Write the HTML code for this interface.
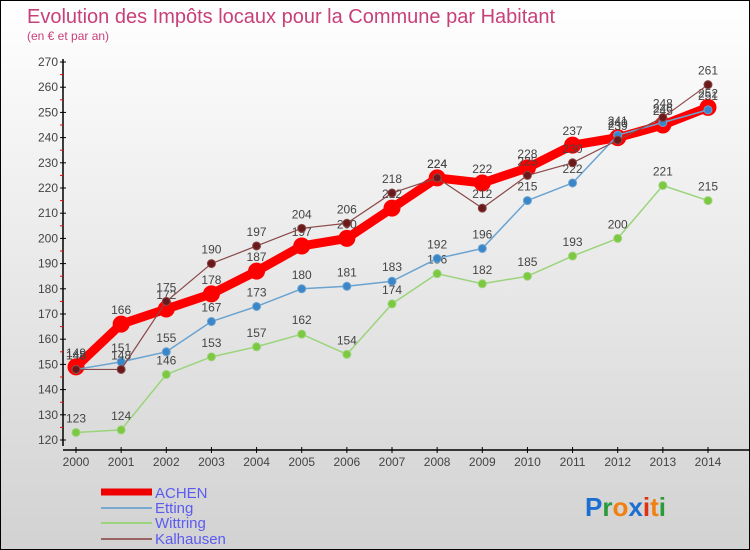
<!DOCTYPE html>
<html><head><meta charset="utf-8"><style>
body{margin:0}
#c{width:748px;height:548px;border:1px solid #000;background:linear-gradient(#fff,#d2d2d2);position:relative;font-family:"Liberation Sans",sans-serif;overflow:hidden}
</style></head><body>
<div id="c">
<svg id="s" width="748" height="548" xmlns="http://www.w3.org/2000/svg">
<text x="26" y="22" font-size="20" fill="#c8407a">Evolution des Impôts locaux pour la Commune par Habitant</text>
<text x="26" y="39" font-size="12" fill="#c8407a">(en € et par an)</text>
<g id="axes"></g><g id="plot"></g>
<g>
<line x1="100" y1="491" x2="151" y2="491" stroke="#e00" stroke-width="7"/>
<text x="154" y="497" font-size="15" fill="#5b5bf0">ACHEN</text>
<line x1="100" y1="507" x2="151" y2="507" stroke="#7aa9cf" stroke-width="2"/>
<text x="154" y="512" font-size="15" fill="#5b5bf0">Etting</text>
<line x1="100" y1="522" x2="151" y2="522" stroke="#9bd47a" stroke-width="2"/>
<text x="154" y="527" font-size="15" fill="#5b5bf0">Wittring</text>
<line x1="100" y1="538" x2="151" y2="538" stroke="#9a6464" stroke-width="2"/>
<text x="154" y="543" font-size="15" fill="#5b5bf0">Kalhausen</text>
</g>
<text x="584" y="515" font-size="26" font-weight="bold" font-family="Liberation Sans, sans-serif"><tspan fill="#1a6fd0">P</tspan><tspan fill="#2a9a3a">r</tspan><tspan fill="#f08010">o</tspan><tspan fill="#1a6fd0">x</tspan><tspan fill="#e03010">i</tspan><tspan fill="#f08010">t</tspan><tspan fill="#2a9a3a">i</tspan></text>
</svg></div>
<script>
const years=[2000,2001,2002,2003,2004,2005,2006,2007,2008,2009,2010,2011,2012,2013,2014];
const achen=[149,166,172,178,187,197,200,212,224,222,228,237,240,245,252];
const etting=[148,151,155,167,173,180,181,183,192,196,215,222,241,246,251];
const wittring=[123,124,146,153,157,162,154,174,186,182,185,193,200,221,215];
const kalhausen=[148,148,175,190,197,204,206,218,224,212,225,230,239,248,261];
const yTicks=[120,130,140,150,160,170,180,190,200,210,220,230,240,250,260,270];
const NS="http://www.w3.org/2000/svg";
const xs=i=>75+i*(707-75)/(years.length-1);
const ys=v=>439-(v-120)*(439-61)/150;
function mk(t,a,p){const e=document.createElementNS(NS,t);for(const k in a)e.setAttribute(k,a[k]);p.appendChild(e);return e;}
const ax=document.getElementById('axes'),pl=document.getElementById('plot');
const yl=mk('line',{x1:62,y1:58,x2:62,y2:445,stroke:'#000','stroke-width':1.5},ax);


const xl=mk('line',{x1:62,y1:449,x2:748,y2:449,stroke:'#000','stroke-width':1.5},ax);


yTicks.forEach((v,i)=>{
 mk('line',{x1:59,y1:ys(v),x2:65,y2:ys(v),stroke:'#000'},ax);
 if(i<yTicks.length-1)mk('line',{x1:59,y1:ys(v+5),x2:62,y2:ys(v+5),stroke:'#f00'},ax);
 const t=mk('text',{x:57,y:ys(v)+4,'font-size':12,'text-anchor':'end',fill:'#444'},ax);t.textContent=v;
 
 
});
years.forEach((y,i)=>{
 mk('line',{x1:xs(i),y1:446,x2:xs(i),y2:452,stroke:'#000'},ax);
 const t=mk('text',{x:xs(i),y:465,'font-size':12,'text-anchor':'middle',fill:'#444'},ax);t.textContent=y;
 
 
});
function series(d,name,col,w,r,dot){
 const g=mk('g',{},pl);
 
 
 const l=mk('polyline',{points:d.map((v,i)=>xs(i)+','+ys(v)).join(' '),fill:'none',stroke:col,'stroke-width':w,'stroke-linejoin':'round'},g);
 
 
 d.forEach((v,i)=>{
  const c=mk('circle',{cx:xs(i),cy:ys(v),r:r,fill:dot,stroke:col,'stroke-width':1},g);
  
  
  const t=mk('text',{x:xs(i),y:ys(v)-10,'font-size':12,'text-anchor':'middle',fill:'#444'},g);t.textContent=v;
  
  
 });
}
series(wittring,'wittring','#9bd47a',1.5,4,'#7cc840');
series(achen,'achen','#f00',9,8,'#f00');
series(etting,'etting','#6aa3d0',1.5,4,'#3a86c8');
series(kalhausen,'kalhausen','#8a4848',1.2,4,'#6a1a1a');
</script>
</body></html>
